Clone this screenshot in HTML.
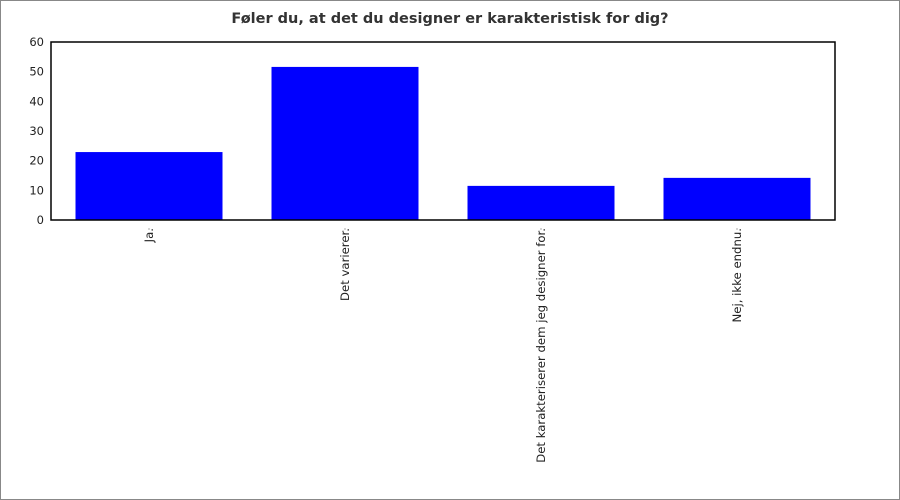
<!DOCTYPE html>
<html><head><meta charset="utf-8"><style>
body{margin:0;background:#fff}
svg{display:block;font-family:"DejaVu Sans","Liberation Sans",sans-serif}
</style></head><body>
<svg id="c" width="900" height="500">
<rect x="0.5" y="0.5" width="899" height="499" fill="#fff" stroke="#888"/>
<text x="450" y="23" text-anchor="middle" font-size="14.5" font-weight="bold" fill="#333">Føler du, at det du designer er karakteristisk for dig?</text>
</svg>
<script>
const categories=["Ja.","Det varierer.","Det karakteriserer dem jeg designer for.","Nej, ikke endnu."];
const values=[22.9,51.6,11.5,14.2];
const yTicks=[0,10,20,30,40,50,60];
const svg=document.getElementById('c');const NS='http://www.w3.org/2000/svg';
const L=51,R=835,T=42,B=220,yMax=60;
const y=v=>B-(v/yMax)*(B-T);
const bw=(R-L)/categories.length;
const x=i=>L+i*bw;
function mk(t,a){const e=document.createElementNS(NS,t);for(const k in a)e.setAttribute(k,a[k]);svg.appendChild(e);return e;}
yTicks.forEach(t=>{const e=mk('text',{x:L-7,y:y(t)+4,'text-anchor':'end','font-size':11.5,fill:'#222'});e.textContent=t;

});
values.forEach((v,i)=>{const r=mk('rect',{x:x(i)+bw*0.125,y:y(v),width:bw*0.75,height:B-y(v),fill:'#0000ff'});


const cx=x(i)+bw/2;
mk('line',{x1:cx,y1:228,x2:cx,y2:230,stroke:'#aaa'});
const t=mk('text',{x:0,y:0,'text-anchor':'end','font-size':11.7,fill:'#222',transform:`translate(${cx+4},228) rotate(-90)`});t.textContent=categories[i];

});
const f=mk('rect',{x:L,y:T,width:R-L,height:B-T,fill:'none',stroke:'#000','stroke-width':1.5});


</script>
</body></html>
